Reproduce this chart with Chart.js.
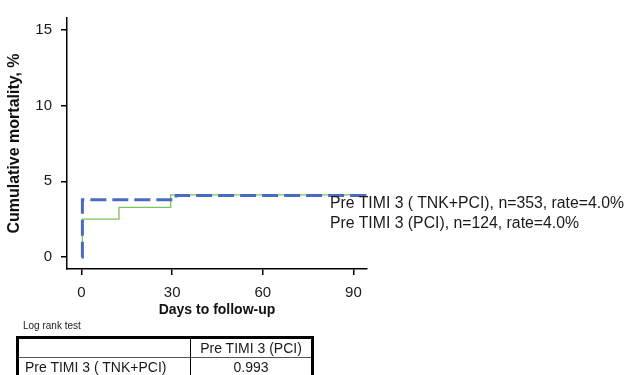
<!DOCTYPE html>
<html>
<head>
<meta charset="utf-8">
<script src="https://cdn.jsdelivr.net/npm/chart.js@4.4.1/dist/chart.umd.min.js"></script>
<style>
  body{margin:0;background:#fff;font-family:"Liberation Sans",Arial,sans-serif;color:#111}
  #wrap{position:relative;width:635px;height:375px;overflow:hidden}
  #km{position:absolute;left:0;top:0}
  .lg{position:absolute;left:330px;font-size:15.8px;line-height:20px;white-space:nowrap;color:#1a1a1a}
  #lrt{position:absolute;left:23px;top:320px;font-size:10px;color:#222}
  #tbl{position:absolute;left:16px;top:336px;width:298px;border:3px solid #000;border-collapse:collapse;font-size:14px}
  #tbl td{height:18px;padding:0 0 0 6px;line-height:18px;white-space:nowrap;color:#1a1a1a}
  #tbl td.c{text-align:center;padding:0;border-left:1px solid #000}
  #tbl tr+tr td{border-top:1px solid #555}
</style>
</head>
<body>
<div id="wrap">
  <canvas id="km" width="635" height="375"></canvas>
  <div class="lg" id="lg0" style="top:193px"></div>
  <div class="lg" id="lg1" style="top:213px"></div>
  <div id="lrt">Log rank test</div>
  <table id="tbl">
    <tr><td style="width:165px"></td><td class="c" id="colHead"></td></tr>
    <tr><td id="rowHead"></td><td class="c" id="pval"></td></tr>
  </table>
</div>
<script>
// ---- data ----
const groupNames = ["Pre TIMI 3 ( TNK+PCI)", "Pre TIMI 3 (PCI)"];
const groupN     = [353, 124];
const groupRate  = ["4.0%", "4.0%"];

// Kaplan-Meier step points: day of event, cumulative mortality %
const tnkDays = [0, 0.3, 31.3, 94.5];
const tnkMort = [0, 3.78, 4.06, 4.06];
const pciDays = [0, 0.3, 12.4, 29.5, 94.5];
const pciMort = [0, 2.5, 3.27, 4.1, 4.1];

const xTicks = [0, 30, 60, 90];
const yTicks = [0, 5, 10, 15];
const logRankP = "0.993";

const toPts = (xs, ys) => xs.map((x, i) => ({x: x, y: ys[i]}));

document.getElementById("lg0").textContent = `${groupNames[0]}, n=${groupN[0]}, rate=${groupRate[0]}`;
document.getElementById("lg1").textContent = `${groupNames[1]}, n=${groupN[1]}, rate=${groupRate[1]}`;
document.getElementById("colHead").textContent = groupNames[1];
document.getElementById("rowHead").textContent = groupNames[0];
document.getElementById("pval").textContent = logRankP;

const FONT = "'Liberation Sans', Arial, sans-serif";

new Chart(document.getElementById("km"), {
  type: "line",
  data: {
    datasets: [
      { label: groupNames[0], data: toPts(tnkDays, tnkMort), stepped: "before",
        borderColor: "#4a6bbf", borderWidth: 3, borderDash: [16, 6], pointRadius: 0, fill: false },
      { label: groupNames[1], data: toPts(pciDays, pciMort), stepped: "before",
        borderColor: "#7dc45a", borderWidth: 1.3, pointRadius: 0, fill: false }
    ]
  },
  options: {
    responsive: false, animation: false, events: [],
    layout: { padding: { left: 0, top: 10, right: 268, bottom: 56 } },
    plugins: { legend: { display: false }, tooltip: { enabled: false } },
    scales: {
      x: {
        type: "linear", min: -4.8, max: 94.5,
        afterBuildTicks: s => { s.ticks = xTicks.map(v => ({value: v})); },
        afterFit: s => { s.height = 50; },
        grid: { drawOnChartArea: false, tickLength: 6, color: "#000", lineWidth: 1.5 },
        border: { color: "#000", width: 1.5 },
        ticks: { padding: 9, maxRotation: 0, color: "#1a1a1a", font: { family: FONT, size: 15 } },
        title: { display: true, text: "Days to follow-up", color: "#111",
                 padding: { top: 0, bottom: 0 }, font: { family: FONT, size: 14, weight: "bold" } }
      },
      y: {
        min: -0.8, max: 15.8,
        afterBuildTicks: s => { s.ticks = yTicks.map(v => ({value: v})); },
        afterFit: s => { s.width = 67; },
        grid: { drawOnChartArea: false, tickLength: 6, color: "#000", lineWidth: 1.5 },
        border: { color: "#000", width: 1.5 },
        ticks: { padding: 9, color: "#1a1a1a", font: { family: FONT, size: 15 } },
        title: { display: true, text: "Cumulative mortality, %", color: "#111",
                 padding: { top: 5, bottom: 0 }, font: { family: FONT, size: 16, weight: "bold" } }
      }
    }
  }
});
</script>
</body>
</html>
